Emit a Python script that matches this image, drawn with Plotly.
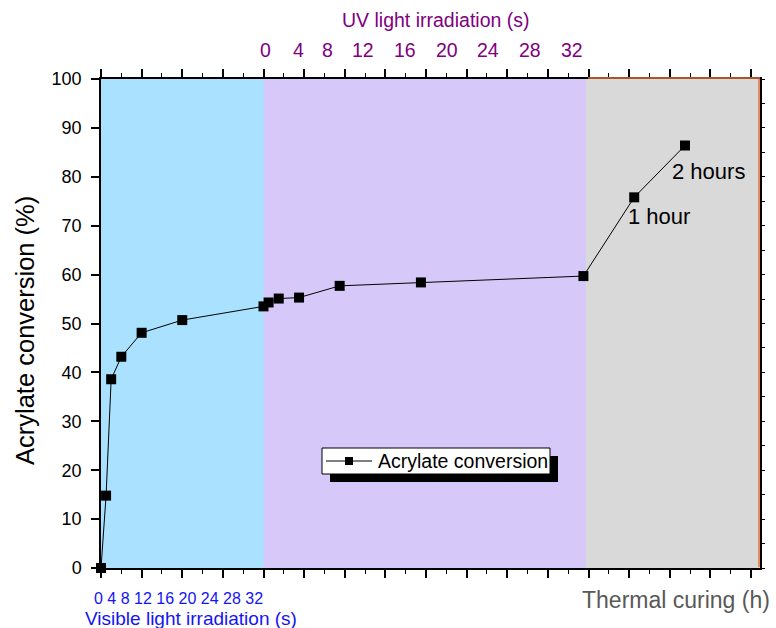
import plotly.graph_objects as go

# Acrylate conversion (%), per curing stage
visible_time_s = [0, 1, 2, 4, 8, 16, 32]
visible_conv = [0, 14.8, 38.6, 43.2, 48.1, 50.7, 53.5]
uv_time_s = [0.5, 1.5, 3.5, 7.5, 15.5, 31.5]
uv_conv = [54.3, 55.1, 55.3, 57.7, 58.4, 59.7]
thermal_time_h = [1, 2]
thermal_conv = [75.8, 86.4]
thermal_text = ["1 hour", "2 hours"]

visible_tick_labels = ["0", "4", "8", "12", "16", "20", "24", "28", "32"]
uv_tick_labels = ["0", "4", "8", "12", "16", "20", "24", "28", "32"]

# one major tick = 1 unit on the shared x axis
# visible: 8 s per unit, UV: 4 s per unit, thermal: 0.8 h per unit after last UV point
x_visible = [t / 8 for t in visible_time_s]
x_uv = [4 + t / 4 for t in uv_time_s]
x_thermal = [x_uv[-1] + h * 1.25 for h in thermal_time_h]

xs = x_visible + x_uv + x_thermal
ys = visible_conv + uv_conv + thermal_conv

PAGE_W, PAGE_H = 776, 628
# plot frame in page pixels
L, R, T, B = 101, 760, 79, 568
W, H = R - L, B - T
XMAX = W / 40.625


def px(x):
    return (x - L) / W


def py(y):
    return (B - y) / H


FONT = "Arial, Liberation Sans, sans-serif"
BLUE_BG = "#A9E1FE"
LAV_BG = "#D6C8F8"
GRAY_BG = "#D9D9D9"
PURPLE = "#800080"
BLUE_TXT = "#1414F5"
ORANGE = "#E8703A"

fig = go.Figure()

fig.add_trace(go.Scatter(
    x=xs, y=ys,
    mode="lines+markers",
    line=dict(color="black", width=1),
    marker=dict(symbol="square", size=10, color="black", line=dict(width=0)),
    cliponaxis=False,
    showlegend=False,
))

shapes = [
    dict(type="rect", xref="x", yref="y", x0=0, x1=4.02, y0=0, y1=100,
         fillcolor=BLUE_BG, line_width=0, layer="below"),
    dict(type="rect", xref="x", yref="y", x0=4, x1=11.95, y0=0, y1=100,
         fillcolor=LAV_BG, line_width=0, layer="below"),
    dict(type="rect", xref="x", yref="y", x0=11.94, x1=XMAX, y0=0, y1=100,
         fillcolor=GRAY_BG, line_width=0, layer="below"),
    # orange frame of the thermal layer
    dict(type="line", xref="paper", yref="paper", x0=px(588), x1=px(760),
         y0=py(78), y1=py(78), line=dict(color=ORANGE, width=1.5)),
    dict(type="line", xref="paper", yref="paper", x0=px(759), x1=px(759),
         y0=py(79), y1=py(567), line=dict(color=ORANGE, width=1.5)),
    # legend box with shadow
    dict(type="rect", xref="paper", yref="paper", x0=px(330), x1=px(558),
         y0=py(456), y1=py(482), fillcolor="black", line_width=0),
    dict(type="rect", xref="paper", yref="paper", x0=px(322), x1=px(550),
         y0=py(448), y1=py(474), fillcolor="white",
         line=dict(color="black", width=1)),
    dict(type="line", xref="paper", yref="paper", x0=px(326), x1=px(372),
         y0=py(461), y1=py(461), line=dict(color="black", width=1)),
    dict(type="rect", xref="paper", yref="paper", x0=px(345), x1=px(353),
         y0=py(457), y1=py(465), fillcolor="black", line_width=0),
]


def label(text, x, y, size, color, xanchor="center", angle=0):
    return dict(text=text, xref="paper", yref="paper", x=px(x), y=py(y),
                xanchor=xanchor, yanchor="middle", textangle=angle,
                showarrow=False, font=dict(size=size, color=color))


annotations = [
    label("Acrylate conversion", 376, 461, 19.5, "black", "left"),
    label("Acrylate conversion (%)", 25, 331, 25.5, "black", angle=-90),
    label("UV light irradiation (s)", 435, 20, 19.5, PURPLE),
    label(" ".join(visible_tick_labels), 92, 598, 16, BLUE_TXT, "left"),
    label("Visible light irradiation (s)", 83, 618, 19, BLUE_TXT, "left"),
    label("Thermal curing (h)", 580, 600, 23, "#595959", "left"),
]

uv_label_px = [265, 298, 327, 363, 405, 447, 488, 530, 572]
for lab, xp in zip(uv_tick_labels, uv_label_px):
    annotations.append(label(lab, xp, 50, 19.5, PURPLE))

for xv, yv, txt, dx, dy in zip(x_thermal, thermal_conv, thermal_text,
                               [-8, -15], [-19, -26]):
    annotations.append(dict(text=txt, x=xv, y=yv, xref="x", yref="y",
                            xanchor="left", yanchor="middle",
                            xshift=dx, yshift=dy, showarrow=False,
                            font=dict(size=22, color="black")))

fig.update_layout(
    width=PAGE_W, height=PAGE_H,
    margin=dict(l=L, r=PAGE_W - R, t=T, b=PAGE_H - B),
    paper_bgcolor="white",
    plot_bgcolor="white",
    font=dict(family=FONT, color="black"),
    shapes=shapes,
    annotations=annotations,
    xaxis=dict(
        range=[0, XMAX], tick0=0, dtick=1,
        showgrid=False, zeroline=False, showticklabels=False,
        showline=True, linecolor="black", linewidth=1.5, mirror="ticks",
        ticks="outside", ticklen=8, tickwidth=1.5, tickcolor="black",
        minor=dict(dtick=0.5, ticks="outside", ticklen=4, tickwidth=1,
                   tickcolor="black"),
    ),
    yaxis=dict(
        range=[0, 100], tick0=0, dtick=10,
        showgrid=False, zeroline=False,
        showline=True, linecolor="black", linewidth=1.5,
        ticks="outside", ticklen=8, tickwidth=1.5, tickcolor="black",
        tickfont=dict(size=18), ticklabelstandoff=6,
    ),
    yaxis2=dict(
        overlaying="y", side="right", range=[0, 100], dtick=5,
        showgrid=False, zeroline=False, showticklabels=False,
        showline=True, linecolor="black", linewidth=1.5,
        ticks="outside", ticklen=3, tickwidth=1, tickcolor="black",
    ),
)

# invisible trace so the right axis is drawn
fig.add_trace(go.Scatter(x=[0], y=[0], yaxis="y2", mode="markers",
                         marker=dict(opacity=0), showlegend=False,
                         hoverinfo="skip"))

# drop the default page margin so the figure fills the window exactly
fig.write_html("out.html",
               config={"displayModeBar": False},
               post_script="document.body.style.margin='0';"
                           "document.body.style.overflow='hidden';")
